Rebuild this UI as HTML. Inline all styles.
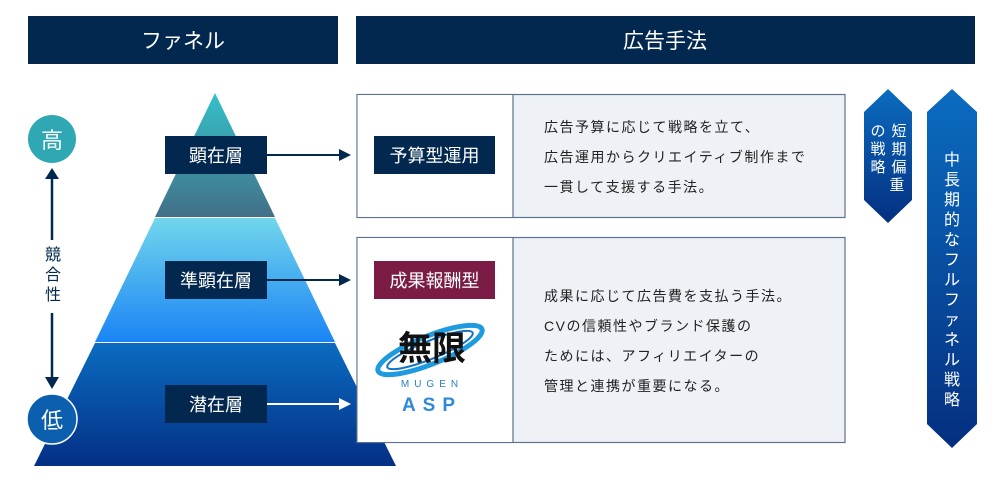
<!DOCTYPE html>
<html><head><meta charset="utf-8"><style>
html,body{margin:0;padding:0;background:#fff;width:1000px;height:486px;overflow:hidden}
svg text{font-family:"Liberation Sans","Noto Sans CJK JP",sans-serif}
</style></head><body>
<svg width="1000" height="486" viewBox="0 0 1000 486" xmlns="http://www.w3.org/2000/svg">
<defs>
<linearGradient id="g1" x1="0" y1="0" x2="0" y2="1"><stop offset="0" stop-color="#35c0c8"/><stop offset="1" stop-color="#427088"/></linearGradient>
<linearGradient id="g2" x1="0" y1="0" x2="0" y2="1"><stop offset="0" stop-color="#72d6ec"/><stop offset="1" stop-color="#1a84f5"/></linearGradient>
<linearGradient id="g3" x1="0" y1="0" x2="0" y2="1"><stop offset="0" stop-color="#0a6cc0"/><stop offset="1" stop-color="#042f86"/></linearGradient>
<linearGradient id="g4" x1="0" y1="0" x2="0" y2="1"><stop offset="0" stop-color="#0a6cc0"/><stop offset="1" stop-color="#052f80"/></linearGradient>
</defs>
<rect x="28" y="16" width="310" height="48" fill="#022850"/>
<text x="183" y="48" font-size="21" fill="#fff" text-anchor="middle">ファネル</text>
<rect x="356" y="16" width="619" height="48" fill="#022850"/>
<text x="665" y="48" font-size="21" fill="#fff" text-anchor="middle">広告手法</text>
<polygon points="215,93 275,217 155,217" fill="url(#g1)"/>
<polygon points="155,218 275,218 335,342 95,342" fill="url(#g2)"/>
<polygon points="95,343 335,343 396,466 34,466" fill="url(#g3)"/>
<rect x="165" y="136" width="102" height="38" fill="#022850"/>
<text x="216" y="162" font-size="18" fill="#fff" text-anchor="middle">顕在層</text>
<rect x="165" y="261" width="102" height="38" fill="#022850"/>
<text x="216" y="287" font-size="18" fill="#fff" text-anchor="middle">準顕在層</text>
<rect x="165" y="385" width="102" height="38" fill="#022850"/>
<text x="216" y="411" font-size="18" fill="#fff" text-anchor="middle">潜在層</text>
<line x1="267" y1="155" x2="340" y2="155" stroke="#022850" stroke-width="2"/>
<polygon points="339,149 351,155 339,161" fill="#022850"/>
<line x1="267" y1="280" x2="340" y2="280" stroke="#022850" stroke-width="2"/>
<polygon points="339,274 351,280 339,286" fill="#022850"/>
<line x1="267" y1="404" x2="340" y2="404" stroke="#fff" stroke-width="2"/>
<polygon points="339,398 351,404 339,410" fill="#fff"/>
<circle cx="52" cy="139" r="24" fill="#2fa8b4"/>
<text x="52" y="148" font-size="22" fill="#fff" text-anchor="middle">高</text>
<line x1="52" y1="176" x2="52" y2="240" stroke="#022850" stroke-width="2.5"/>
<polygon points="45,179 52,168 59,179" fill="#022850"/>
<text x="53" y="260" font-size="16" fill="#022850" text-anchor="middle">競</text>
<text x="53" y="280" font-size="16" fill="#022850" text-anchor="middle">合</text>
<text x="53" y="300" font-size="16" fill="#022850" text-anchor="middle">性</text>
<line x1="52" y1="313" x2="52" y2="380" stroke="#022850" stroke-width="2.5"/>
<polygon points="45,377 52,389 59,377" fill="#022850"/>
<circle cx="52" cy="419" r="25" fill="#0b5fae" stroke="#fff" stroke-width="1.5"/>
<text x="52" y="428" font-size="22" fill="#fff" text-anchor="middle">低</text>
<rect x="357" y="94.5" width="488" height="123" fill="#eef1f6" stroke="#5d7190" stroke-width="1.2"/>
<rect x="357.6" y="95.1" width="155.4" height="121.8" fill="#fff"/>
<line x1="513" y1="94.5" x2="513" y2="217.5" stroke="#5d7190" stroke-width="1.2"/>
<rect x="374" y="136" width="121" height="38" fill="#022850"/>
<text x="434.5" y="162" font-size="18" fill="#fff" text-anchor="middle">予算型運用</text>
<text font-size="14" fill="#222" letter-spacing="1.5">
<tspan x="544" y="132">広告予算に応じて戦略を立て、</tspan>
<tspan x="544" y="162">広告運用からクリエイティブ制作まで</tspan>
<tspan x="544" y="192">一貫して支援する手法。</tspan>
</text>
<rect x="357" y="237.5" width="488" height="205" fill="#eef1f6" stroke="#5d7190" stroke-width="1.2"/>
<rect x="357.6" y="238.1" width="155.4" height="203.8" fill="#fff"/>
<line x1="513" y1="237.5" x2="513" y2="442.5" stroke="#5d7190" stroke-width="1.2"/>
<rect x="374" y="261" width="121" height="38" fill="#7a1c45"/>
<text x="434.5" y="287" font-size="18" fill="#fff" text-anchor="middle">成果報酬型</text>
<ellipse cx="430" cy="350" rx="56" ry="14" transform="rotate(-22 430 350)" fill="none" stroke="#1e9be0" stroke-width="5"/>
<ellipse cx="430" cy="350" rx="46" ry="9" transform="rotate(-22 430 350)" fill="none" stroke="#1570c8" stroke-width="2"/>
<text x="432" y="360" font-size="34" font-weight="bold" fill="#111" text-anchor="middle" font-family="'Noto Serif CJK SC',serif">無限</text>
<text x="432" y="387" font-size="10" fill="#2a7fc8" text-anchor="middle" letter-spacing="5">MUGEN</text>
<text x="432" y="411" font-size="19" font-weight="bold" fill="#2f8ad8" text-anchor="middle" letter-spacing="7">ASP</text>
<text font-size="14" fill="#222" letter-spacing="1.5">
<tspan x="544" y="301">成果に応じて広告費を支払う手法。</tspan>
<tspan x="544" y="331">CVの信頼性やブランド保護の</tspan>
<tspan x="544" y="361">ためには、アフィリエイターの</tspan>
<tspan x="544" y="391">管理と連携が重要になる。</tspan>
</text>
<polygon points="888,89 912,112 912,200 888,223 864,200 864,112" fill="url(#g4)"/>
<text font-size="15" fill="#fff" text-anchor="middle">
<tspan x="899" y="136">短</tspan><tspan x="899" y="154">期</tspan><tspan x="899" y="172">偏</tspan><tspan x="899" y="190">重</tspan>
<tspan x="878" y="136">の</tspan><tspan x="878" y="154">戦</tspan><tspan x="878" y="172">略</tspan>
</text>
<polygon points="952,89 977,112 977,424 952,448 927,424 927,112" fill="url(#g4)"/>
<text font-size="16" fill="#fff" text-anchor="middle">
<tspan x="952" y="165">中</tspan><tspan x="952" y="185">長</tspan><tspan x="952" y="205">期</tspan><tspan x="952" y="225">的</tspan><tspan x="952" y="245">な</tspan><tspan x="952" y="265">フ</tspan><tspan x="952" y="285">ル</tspan><tspan x="952" y="305">フ</tspan><tspan x="952" y="325">ァ</tspan><tspan x="952" y="345">ネ</tspan><tspan x="952" y="365">ル</tspan><tspan x="952" y="385">戦</tspan><tspan x="952" y="405">略</tspan>
</text>
</svg>
</body></html>
